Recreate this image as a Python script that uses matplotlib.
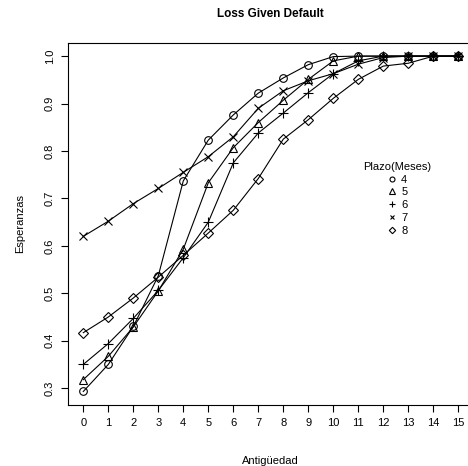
import matplotlib
matplotlib.use('Agg')
import matplotlib.pyplot as plt

plt.rcParams['font.family'] = ['Liberation Sans', 'DejaVu Sans']

# Antigüedad (meses) y esperanzas por plazo
antig = list(range(16))
plazos = ['4', '5', '6', '7', '8']
esp_4 = [0.293, 0.350, 0.430, 0.537, 0.737, 0.823, 0.876, 0.922, 0.954, 0.982, 0.999, 1.0, 1.0, 1.0, 1.0, 1.0]
esp_5 = [0.318, 0.367, 0.429, 0.505, 0.593, 0.733, 0.807, 0.860, 0.907, 0.951, 0.990, 1.0, 1.0, 1.0, 1.0, 1.0]
esp_6 = [0.350, 0.394, 0.447, 0.506, 0.575, 0.650, 0.775, 0.838, 0.880, 0.923, 0.963, 0.990, 1.0, 1.0, 1.0, 1.0]
esp_7 = [0.620, 0.652, 0.689, 0.721, 0.755, 0.788, 0.830, 0.890, 0.927, 0.948, 0.963, 0.983, 0.997, 1.0, 1.0, 1.0]
esp_8 = [0.417, 0.450, 0.490, 0.534, 0.580, 0.627, 0.675, 0.742, 0.825, 0.866, 0.911, 0.951, 0.979, 0.985, 1.0, 1.0]
series = [esp_4, esp_5, esp_6, esp_7, esp_8]
marcadores = ['o', '^', '+', 'x', 'D']
tamanos = [5.5, 6, 7, 5.5, 5]

W, H = 468, 466
fig = plt.figure(figsize=(W / 100, H / 100), dpi=100)
# eje como en R (4% extra a cada lado); el borde derecho queda fuera de la imagen
ax = fig.add_axes([68.3 / W, (H - 404.9) / H, 405 / W, 362.2 / H])

for y, m, s, lab in zip(series, marcadores, tamanos, plazos):
    ax.plot(antig, y, color='black', linewidth=0.8, marker=m, markersize=s,
            markerfacecolor='none', markeredgecolor='black', markeredgewidth=0.8,
            label=lab)

ax.set_xlim(-0.6, 15.6)
ax.set_ylim(0.2647, 1.0283)
ax.set_xticks(antig)
ax.set_yticks([0.3, 0.4, 0.5, 0.6, 0.7, 0.8, 0.9, 1.0])
ax.set_yticklabels(['0.3', '0.4', '0.5', '0.6', '0.7', '0.8', '0.9', '1.0'],
                   rotation=90, va='center')
ax.tick_params(direction='out', length=5, width=0.8, labelsize=8, pad=4.5)
for sp in ax.spines.values():
    sp.set_linewidth(0.8)

ax.set_title('Loss Given Default', fontsize=8.5, fontweight='bold', pad=18.5)
ax.set_xlabel('Antigüedad', fontsize=8, labelpad=20)
ax.set_ylabel('Esperanzas', fontsize=8, labelpad=14.5)

handles = [plt.Line2D([], [], linestyle='none', marker=m, markersize=s * 0.65,
                      markerfacecolor='none', markeredgecolor='black',
                      markeredgewidth=0.8) for m, s in zip(marcadores, tamanos)]
leg = ax.legend(handles, plazos, title='Plazo(Meses)', frameon=False,
                loc='upper left', bbox_to_anchor=(355 / W, 1 - 154 / H),
                bbox_transform=fig.transFigure, fontsize=8, title_fontsize=8,
                handlelength=1.0, handletextpad=0.35, labelspacing=0.25,
                borderpad=0.2)

fig.savefig('out.png', dpi=100)
